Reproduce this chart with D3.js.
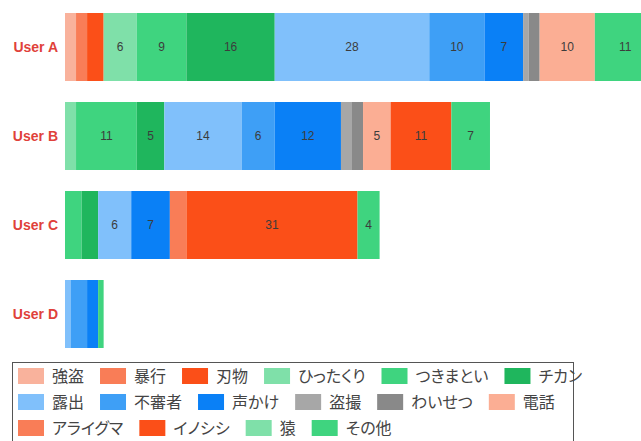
<!DOCTYPE html>
<html>
<head>
<meta charset="utf-8">
<script src="https://cdn.jsdelivr.net/npm/d3@7"></script>
<style>
  body { margin: 0; background: #fff; }
  svg { display: block; }
  .lab { font-family: "Liberation Sans", Arial, sans-serif; font-size: 14px; font-weight: bold; fill: #e0413a; }
  .val { font-family: "Liberation Sans", Arial, sans-serif; font-size: 12px; fill: #3c3c3c; }
  .leg text { font-family: "Noto Sans CJK JP", sans-serif; font-size: 16px; fill: #444; font-feature-settings: "palt"; }
</style>
</head>
<body>
<script>
const users = ["User A", "User B", "User C", "User D"];
const categories = ["強盗", "暴行", "刃物", "ひったくり", "つきまとい", "チカン",
  "露出", "不審者", "声かけ", "盗撮", "わいせつ", "電話",
  "アライグマ", "イノシシ", "猿", "その他"];
const palette = ["#f9b29c", "#f97d57", "#fb4f18", "#7fe0a9", "#3fd47f", "#1fb65d",
  "#80c0fb", "#3e9ff6", "#0a80f6", "#a7a7a7", "#898989", "#fbae94",
  "#f97d57", "#fb4f18", "#7fe0a9", "#3fd47f"];

// counts per user, same order as categories
const valuesA = [2, 2, 3, 6, 9, 16, 28, 10, 7, 1, 2, 10, 0, 0, 0, 11];
const valuesB = [0, 0, 0, 2, 11, 5, 14, 6, 12, 2, 2, 5, 0, 11, 0, 7];
const valuesC = [0, 0, 0, 0, 3, 3, 6, 0, 7, 0, 0, 0, 3, 31, 0, 4];
const valuesD = [0, 0, 0, 0, 0, 0, 1, 3, 2, 0, 0, 0, 0, 0, 0, 1];

const width = 641, height = 441;
const margin = {left: 65, right: 2, top: 2.5};

const rows = [valuesA, valuesB, valuesC, valuesD].map((v, i) => {
  const r = {user: users[i]};
  categories.forEach((c, j) => r[c] = v[j]);
  return r;
});

const series = d3.stack().keys(categories)(rows);
const color = d3.scaleOrdinal().domain(categories).range(palette);

const svg = d3.select("body").append("svg")
  .attr("width", width)
  .attr("height", height);

const x = d3.scaleLinear()
  .domain([0, 104])
  .range([margin.left, width - margin.right]);

const y = d3.scaleBand()
  .domain(users)
  .range([margin.top, margin.top + 89 * users.length])
  .paddingInner(0.236)
  .paddingOuter(0.118);

const layer = svg.append("g").selectAll("g")
  .data(series)
  .join("g")
  .attr("fill", d => color(d.key));

layer.selectAll("rect")
  .data(d => d)
  .join("rect")
  .attr("x", d => x(d[0]))
  .attr("y", d => y(d.data.user))
  .attr("width", d => x(d[1]) - x(d[0]))
  .attr("height", y.bandwidth());

layer.selectAll("text")
  .data(d => d.filter(p => p[1] - p[0] >= 4))
  .join("text")
  .attr("class", "val")
  .attr("x", d => (x(d[0]) + x(d[1])) / 2)
  .attr("y", d => y(d.data.user) + y.bandwidth() / 2)
  .attr("dy", "0.35em")
  .attr("text-anchor", "middle")
  .text(d => d[1] - d[0]);

svg.append("g").selectAll("text")
  .data(users)
  .join("text")
  .attr("class", "lab")
  .attr("x", margin.left - 7)
  .attr("y", d => y(d) + y.bandwidth() / 2)
  .attr("dy", "0.35em")
  .attr("text-anchor", "end")
  .text(d => d);

// legend
const leg = svg.append("g").attr("class", "leg");
leg.append("rect")
  .attr("x", 12.5).attr("y", 362.5)
  .attr("width", 561).attr("height", 100)
  .attr("fill", "#fff")
  .attr("stroke", "#555");

let lx = 18, ly = 376;
categories.forEach((c, i) => {
  if (i > 0 && i % 6 == 0) { lx = 18; ly += 26; }
  const g = leg.append("g").attr("transform", "translate(" + lx + "," + ly + ")");
  g.append("rect")
    .attr("x", 0).attr("y", -8)
    .attr("width", 26).attr("height", 16)
    .attr("fill", color(c));
  const t = g.append("text")
    .attr("x", 34)
    .attr("dy", "0.36em")
    .text(c);
  lx += 34 + t.node().getComputedTextLength() + 16;
});
</script>
</body>
</html>
